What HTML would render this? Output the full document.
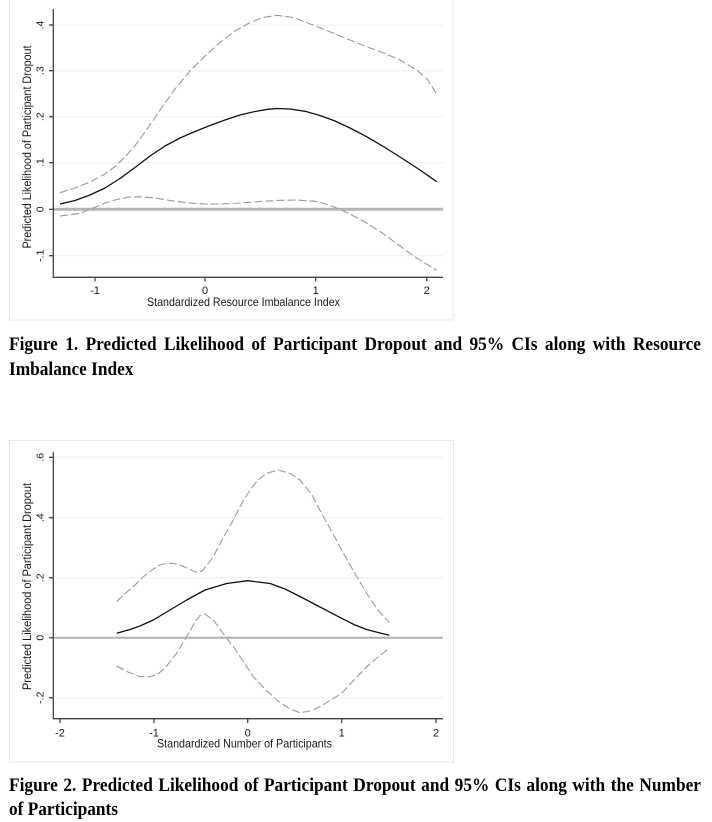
<!DOCTYPE html>
<html><head><meta charset="utf-8"><style>
html,body{margin:0;padding:0;background:#fff;}
svg{display:block;}
</style></head><body>
<svg width="712" height="822" viewBox="0 0 712 822" xmlns="http://www.w3.org/2000/svg">
<rect width="712" height="822" fill="#fff"/>

<!-- ========== CHART 1 ========== -->
<rect x="9.5" y="-1" width="443.5" height="321" fill="#fff" stroke="#e6eaea" stroke-width="1"/>
<g stroke="#eaf1f2" stroke-width="1">
<line x1="53" y1="25" x2="443" y2="25"/>
<line x1="53" y1="70.7" x2="443" y2="70.7"/>
<line x1="53" y1="116.7" x2="443" y2="116.7"/>
<line x1="53" y1="162.7" x2="443" y2="162.7"/>
<line x1="53" y1="255.7" x2="443" y2="255.7"/>
</g>
<line x1="53" y1="209.3" x2="443" y2="209.3" stroke="#b4b4b4" stroke-width="3"/>
<!-- axes -->
<g stroke="#444" stroke-width="1.3" fill="none">
<polyline points="53.3,9 53.3,277.3 443,277.3"/>
<line x1="49" y1="25" x2="53.3" y2="25"/>
<line x1="49" y1="70.7" x2="53.3" y2="70.7"/>
<line x1="49" y1="116.7" x2="53.3" y2="116.7"/>
<line x1="49" y1="162.7" x2="53.3" y2="162.7"/>
<line x1="49" y1="209.3" x2="53.3" y2="209.3"/>
<line x1="49" y1="255.7" x2="53.3" y2="255.7"/>
<line x1="95" y1="277.3" x2="95" y2="281.5"/>
<line x1="205" y1="277.3" x2="205" y2="281.5"/>
<line x1="315.7" y1="277.3" x2="315.7" y2="281.5"/>
<line x1="426.7" y1="277.3" x2="426.7" y2="281.5"/>
</g>
<!-- series -->
<polyline fill="none" stroke="#9a9a9a" stroke-width="1.1" stroke-dasharray="8 3" stroke-linejoin="round"
points="60,192.7 75,188 90,182 105,174 115,166.5 125,157 135,145.5 145,132 155,117.5 165,103 175,89 190,71 205,56 220,42.5 235,31 250,22.5 263,17.5 277,15.3 293,17.5 315.7,26 333,33 350,40 366.7,46.7 385,53.5 400,60 416.7,70 428,80 436.7,94.3"/>
<polyline fill="none" stroke="#9a9a9a" stroke-width="1.1" stroke-dasharray="8 3" stroke-linejoin="round"
points="60,216 80,213.3 95,207.3 105,203 116.7,199.5 130,197 140,196.8 155,198 170,200.5 190,203 205,204 220,204 240,203 260,201.5 280,200.3 295,200 315.7,201.3 333.3,206.5 350,214 366.7,223 383,233.5 400,246 416.7,258 428,265 436.7,270"/>
<polyline fill="none" stroke="#111" stroke-width="1.3" stroke-linejoin="round"
points="60,204 75,200.5 90,195 105,188 120,178.5 135,167.5 150,156 165,146 180,138 195,131.5 210,125.5 225,120 240,115 255,111.5 268,109.3 277,108.5 290,109 305,111.3 320,115.5 335,121 350,128 366.7,136.7 385,147.5 400,157 420,170 436.7,181.7"/>
<!-- labels -->
<g font-family="Liberation Sans, Arial, sans-serif" fill="#1a1a1a">
<g font-size="10.5" text-anchor="middle">
<text transform="translate(43.5,25) rotate(-90)">.4</text>
<text transform="translate(43.5,70.7) rotate(-90)">.3</text>
<text transform="translate(43.5,116.7) rotate(-90)">.2</text>
<text transform="translate(43.5,162.7) rotate(-90)">.1</text>
<text transform="translate(43.5,209.3) rotate(-90)">0</text>
<text transform="translate(43.5,255.7) rotate(-90)">-.1</text>
</g>
<g font-size="11" text-anchor="middle">
<text x="95" y="294">-1</text>
<text x="205" y="294">0</text>
<text x="315.7" y="294">1</text>
<text x="426.7" y="294">2</text>
</g>
<text x="147" y="306" font-size="12" textLength="193" lengthAdjust="spacingAndGlyphs">Standardized Resource Imbalance Index</text>
<text transform="translate(31,248.5) rotate(-90)" font-size="11.5" textLength="203" lengthAdjust="spacingAndGlyphs">Predicted Likelihood of Participant Dropout</text>
</g>

<!-- caption 1 -->
<g font-family="Liberation Serif, 'Times New Roman', serif" font-weight="bold" font-size="17.3" fill="#000">
<text transform="translate(9,350) scale(1,1.12)" textLength="692" lengthAdjust="spacing" word-spacing="3">Figure 1. Predicted Likelihood of Participant Dropout and 95% CIs along with Resource</text>
<text transform="translate(9,375) scale(1,1.12)">Imbalance Index</text>
</g>

<!-- ========== CHART 2 ========== -->
<rect x="9.5" y="440.5" width="444" height="321.5" fill="#fff" stroke="#e6eaea" stroke-width="1"/>
<g stroke="#eaf1f2" stroke-width="1">
<line x1="53" y1="457.3" x2="443" y2="457.3"/>
<line x1="53" y1="517.7" x2="443" y2="517.7"/>
<line x1="53" y1="577.7" x2="443" y2="577.7"/>
<line x1="53" y1="697.7" x2="443" y2="697.7"/>
</g>
<line x1="53" y1="637.7" x2="443" y2="637.7" stroke="#b0b0b0" stroke-width="2"/>
<g stroke="#444" stroke-width="1.3" fill="none">
<polyline points="53.3,452 53.3,718.7 443,718.7"/>
<line x1="49" y1="457.3" x2="53.3" y2="457.3"/>
<line x1="49" y1="517.7" x2="53.3" y2="517.7"/>
<line x1="49" y1="577.7" x2="53.3" y2="577.7"/>
<line x1="49" y1="637.7" x2="53.3" y2="637.7"/>
<line x1="49" y1="697.7" x2="53.3" y2="697.7"/>
<line x1="60" y1="718.7" x2="60" y2="723"/>
<line x1="154" y1="718.7" x2="154" y2="723"/>
<line x1="247.7" y1="718.7" x2="247.7" y2="723"/>
<line x1="341.7" y1="718.7" x2="341.7" y2="723"/>
<line x1="436" y1="718.7" x2="436" y2="723"/>
</g>
<polyline fill="none" stroke="#9a9a9a" stroke-width="1.1" stroke-dasharray="8 3" stroke-linejoin="round"
points="116.7,601.7 125,593.5 133.3,586.7 143,577 153.3,569 160,565 166.7,563.3 173,563.3 180,565 190,569.5 197,572.5 202,571 207,565 213.3,556.7 223,538 233.3,520 242,503 250,490 258,480 266.7,473.3 278.3,470 290,473.5 300,480 312,495 323.3,516.7 332,532 341.7,550 354,572 366.7,593.3 378,610 389.3,622.7"/>
<polyline fill="none" stroke="#9a9a9a" stroke-width="1.1" stroke-dasharray="8 3" stroke-linejoin="round"
points="116.7,666 128,672 140,676.7 148,677 156.7,675 165,668 176.7,653.3 186.7,636.7 195,622 200,615.5 205,614 213.3,620 222,632 233.3,646.7 243,661 253.3,676.7 265,689 276.7,700 290,709 300,712.7 310,711 320,706.7 331,700 341.7,693.3 354,680 366.7,666.7 378,657 389.3,648.3"/>
<polyline fill="none" stroke="#111" stroke-width="1.3" stroke-linejoin="round"
points="116.7,633.3 130,629.5 140,626 153.3,620 170,610 186.7,600 205,590 226.7,583.5 247.7,580.7 270,583.5 285,589 300,596.5 320,607 341.7,618.3 355,625 366.7,629.5 380,633 389.3,635.3"/>
<g font-family="Liberation Sans, Arial, sans-serif" fill="#1a1a1a">
<g font-size="10.5" text-anchor="middle">
<text transform="translate(43.5,457.3) rotate(-90)">.6</text>
<text transform="translate(43.5,517.7) rotate(-90)">.4</text>
<text transform="translate(43.5,577.7) rotate(-90)">.2</text>
<text transform="translate(43.5,637.7) rotate(-90)">0</text>
<text transform="translate(43.5,697.7) rotate(-90)">-.2</text>
</g>
<g font-size="11" text-anchor="middle">
<text x="60" y="736.7">-2</text>
<text x="154" y="736.7">-1</text>
<text x="247.7" y="736.7">0</text>
<text x="341.7" y="736.7">1</text>
<text x="436" y="736.7">2</text>
</g>
<text x="157" y="747.3" font-size="12" textLength="175" lengthAdjust="spacingAndGlyphs">Standardized Number of Participants</text>
<text transform="translate(31,690) rotate(-90)" font-size="11.5" textLength="207" lengthAdjust="spacingAndGlyphs">Predicted Likelihood of Participant Dropout</text>
</g>

<!-- caption 2 -->
<g font-family="Liberation Serif, 'Times New Roman', serif" font-weight="bold" font-size="17.3" fill="#000">
<text transform="translate(9,791) scale(1,1.12)" textLength="692" lengthAdjust="spacing" word-spacing="1.2">Figure 2. Predicted Likelihood of Participant Dropout and 95% CIs along with the Number</text>
<text transform="translate(9,815) scale(1,1.12)">of Participants</text>
</g>
</svg>
</body></html>
